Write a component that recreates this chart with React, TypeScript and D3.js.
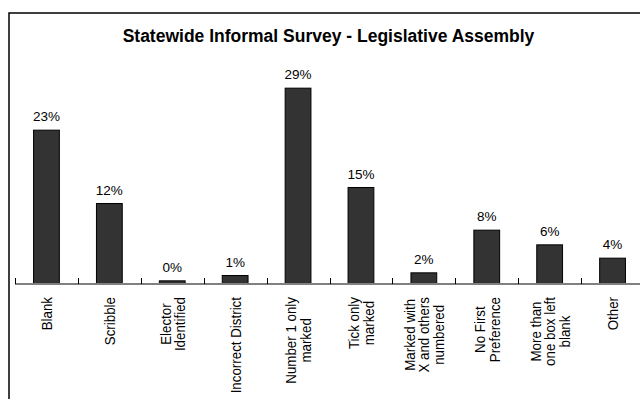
import React, { useEffect, useRef } from "react";
import * as d3 from "d3";

const categories: string[][] = [
  ["Blank"],
  ["Scribble"],
  ["Elector", "Identified"],
  ["Incorrect District"],
  ["Number 1 only", "marked"],
  ["Tick only", "marked"],
  ["Marked with", "X and others", "numbered"],
  ["No First", "Preference"],
  ["More than", "one box left", "blank"],
  ["Other"],
];
const values: number[] = [23.0, 12.0, 0.4, 1.2, 29.3, 14.4, 1.6, 8.0, 5.8, 3.8];
const valueLabels: string[] = ["23%", "12%", "0%", "1%", "29%", "15%", "2%", "8%", "6%", "4%"];
const title = "Statewide Informal Survey - Legislative Assembly";

const W = 640;
const H = 399;
const FONT = "'Liberation Sans', Arial, sans-serif";

export default function App() {
  const ref = useRef<SVGSVGElement>(null);
  useEffect(() => {
    const svg = d3.select(ref.current);
    svg.selectAll("*").remove();

    svg.append("rect").attr("x", 0).attr("y", 0).attr("width", W).attr("height", H).attr("fill", "#fff");
    // frame
    svg.append("rect").attr("x", 9).attr("y", 13).attr("width", 660).attr("height", 420)
      .attr("fill", "none").attr("stroke", "#000").attr("stroke-width", 1.5);

    svg.append("text").attr("x", 328.5).attr("y", 42).attr("text-anchor", "middle")
      .attr("font-family", FONT).attr("font-weight", "bold").attr("font-size", 17.5)
      .attr("fill", "#000").text(title);

    const idx = categories.map((_, i) => String(i));
    const x = d3.scaleBand<string>().domain(idx).range([15, 644]).padding(0);
    const y = d3.scaleLinear().domain([0, 30]).range([283.5, 83.5]);
    const bw = x.bandwidth() * 0.41;

    const g = svg.append("g");
    idx.forEach((k, i) => {
      const cx = (x(k) as number) + x.bandwidth() / 2;
      g.append("rect").attr("x", cx - bw / 2).attr("y", y(values[i]))
        .attr("width", bw).attr("height", y(0) - y(values[i]))
        .attr("fill", "#333333").attr("stroke", "#000").attr("stroke-width", 1);
      g.append("text").attr("x", cx).attr("y", y(values[i]) - 9).attr("text-anchor", "middle")
        .attr("font-family", FONT).attr("font-size", 13.5).attr("fill", "#000").text(valueLabels[i]);
    });

    // axis line
    svg.append("line").attr("x1", 15).attr("x2", 644).attr("y1", 284).attr("y2", 284)
      .attr("stroke", "#808080").attr("stroke-width", 2);
    idx.forEach((k) => {
      const tx = Math.round(x(k) as number) + 0.5;
      svg.append("line").attr("x1", tx).attr("x2", tx).attr("y1", 278).attr("y2", 284)
        .attr("stroke", "#000").attr("stroke-width", 1);
    });

    // category labels, rotated
    const lh = 14.5;
    const top = 297;
    const sx = 0.92;
    idx.forEach((k, i) => {
      const cx = (x(k) as number) + x.bandwidth() / 2;
      const lines = categories[i];
      const lg = svg.append("g");
      const texts = lines.map((ln) =>
        lg.append("text").attr("font-family", FONT).attr("font-size", 14.5)
          .attr("fill", "#000").attr("text-anchor", "middle").text(ln)
      );
      const maxW = (d3.max(texts, (t) => (t.node() as SVGTextElement).getComputedTextLength()) || 0) * sx;
      const cy = top + maxW / 2;
      const n = lines.length;
      texts.forEach((t, j) => {
        const off = (j - (n - 1) / 2) * lh;
        t.attr("transform", `translate(${cx + off + 5.5},${cy}) rotate(-90) scale(${sx},1)`);
      });
    });
  }, []);
  return (
    <svg ref={ref} width={W} height={H}
      style={{ position: "absolute", left: 0, top: 0, display: "block" }} />
  );
}
